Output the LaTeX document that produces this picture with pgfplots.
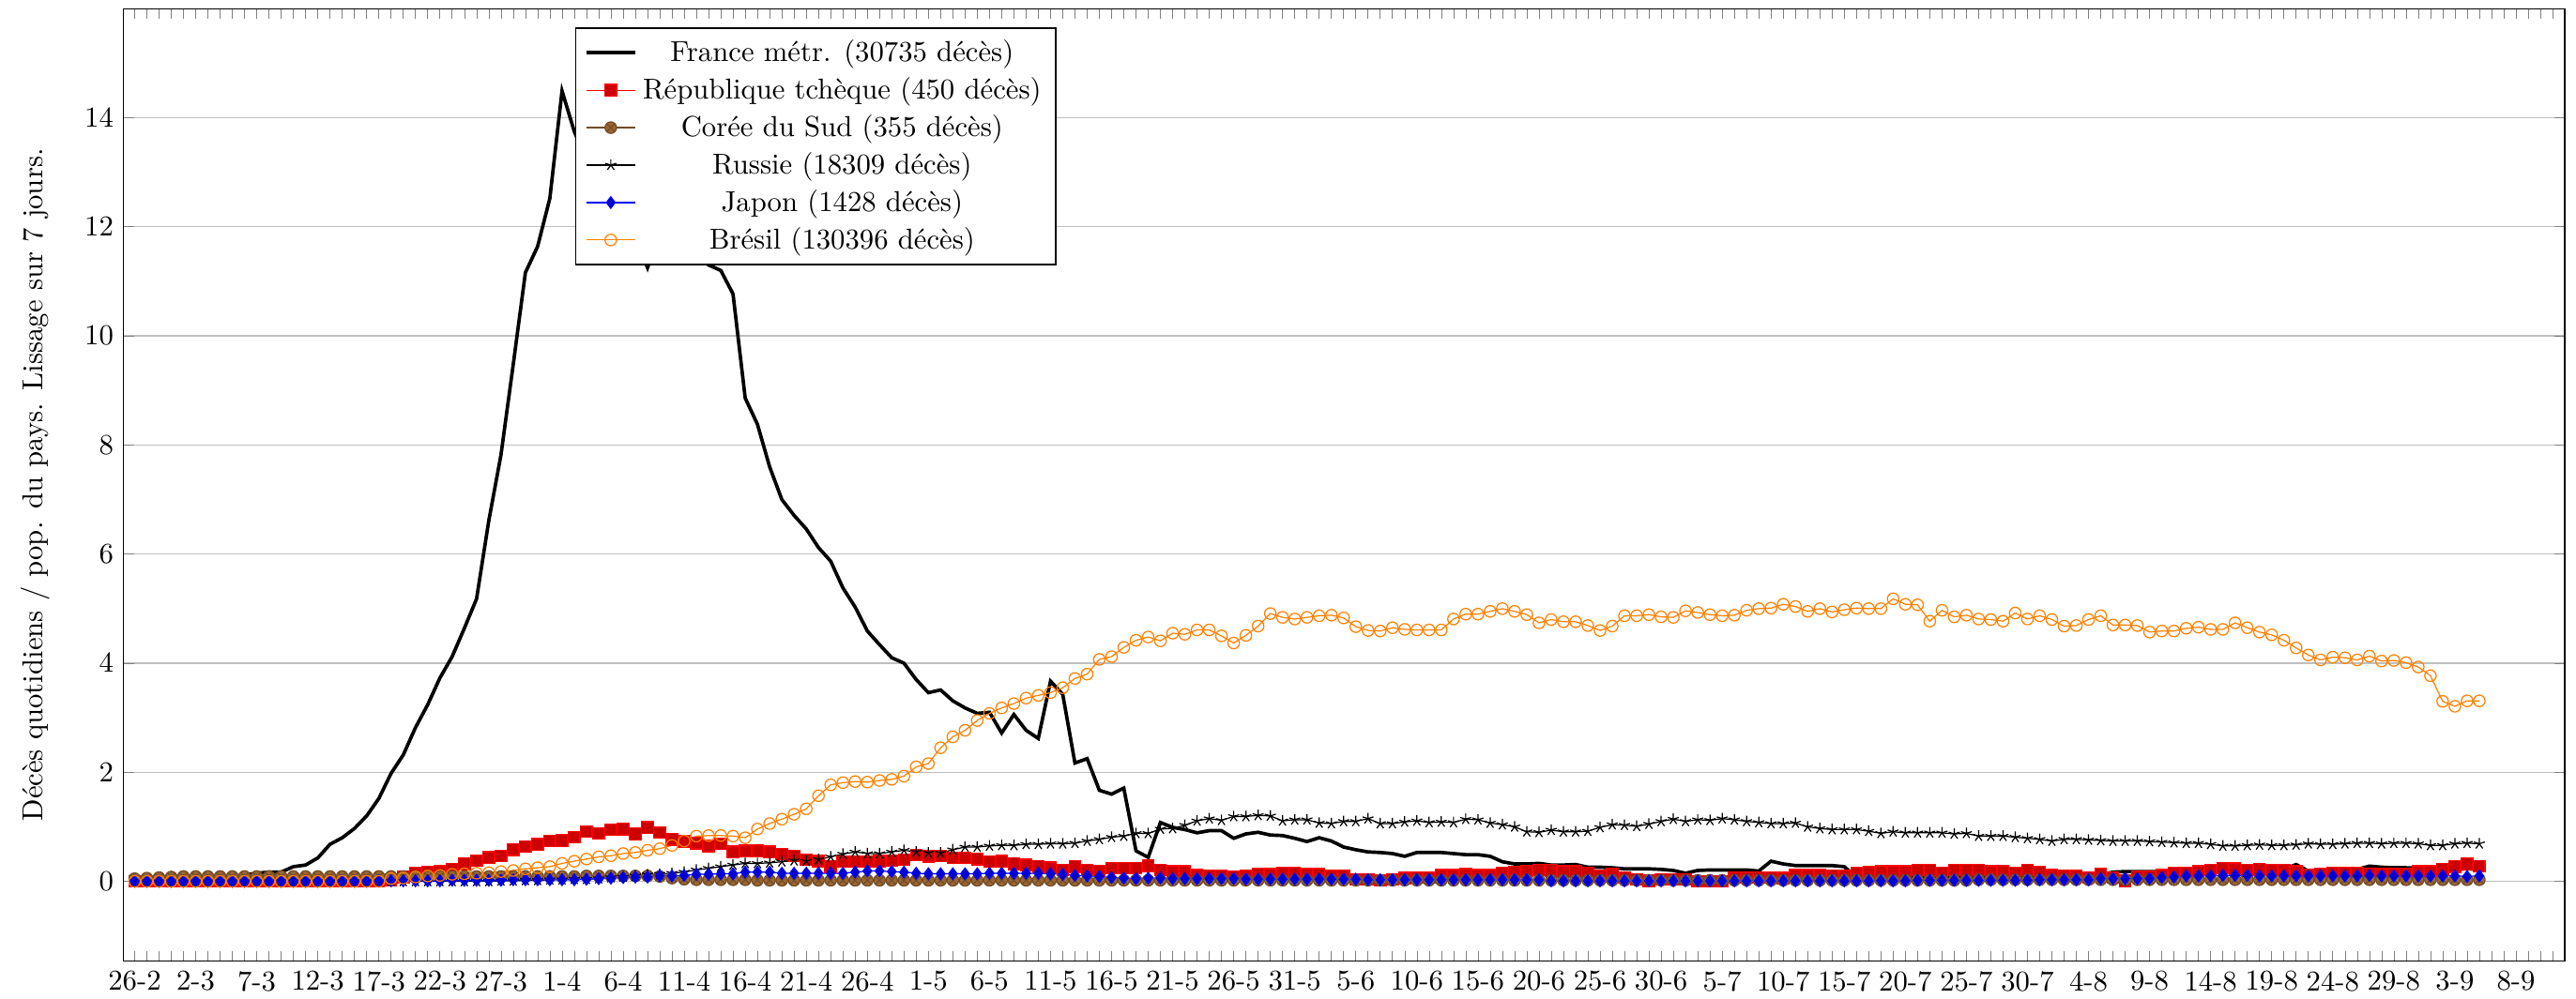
\documentclass[border=0pt]{standalone}
\usepackage{pgfplots}
\usepackage{pgfplotstable}
\pgfplotsset{compat=1.18}
\pgfplotstableread{
d fr cz kr ru jp br
0 0.01 0 0.05 0 0 0
1 0.01 0 0.06 0 0 0
2 0.02 0 0.07 0 0 0
3 0.02 0 0.08 0 0 0
4 0.03 0 0.09 0 0 0
5 0.03 0 0.09 0 0 0
6 0.04 0 0.09 0 0 0
7 0.06 0 0.09 0 0 0
8 0.09 0 0.09 0 0 0
9 0.12 0 0.09 0 0 0
10 0.15 0 0.09 0 0 0
11 0.17 0 0.09 0 0 0
12 0.17 0 0.09 0 0 0
13 0.27 0 0.09 0 0 0
14 0.30 0 0.09 0 0 0
15 0.43 0 0.09 0 0 0
16 0.68 0 0.09 0 0 0
17 0.80 0 0.09 0 0 0
18 0.97 0 0.09 0 0 0
19 1.20 0 0.09 0 0 0
20 1.52 0 0.09 0 0.01 0
21 1.98 0.03 0.09 0 0.01 0.05
22 2.32 0.08 0.09 0 0.01 0.06
23 2.82 0.15 0.09 0 0.01 0.08
24 3.24 0.17 0.09 0 0.01 0.10
25 3.73 0.18 0.09 0 0.01 0.11
26 4.12 0.22 0.09 0 0.02 0.13
27 4.64 0.32 0.09 0 0.02 0.14
28 5.18 0.38 0.09 0 0.02 0.15
29 6.61 0.44 0.09 0 0.02 0.16
30 7.82 0.47 0.09 0.01 0.02 0.18
31 9.47 0.58 0.09 0.01 0.03 0.20
32 11.16 0.64 0.09 0.02 0.03 0.23
33 11.64 0.68 0.09 0.02 0.03 0.25
34 12.52 0.74 0.09 0.03 0.03 0.27
35 14.49 0.75 0.09 0.03 0.03 0.33
36 13.75 0.81 0.09 0.04 0.03 0.37
37 13.2 0.91 0.10 0.04 0.04 0.41
38 12.8 0.88 0.10 0.05 0.05 0.45
39 12.5 0.95 0.10 0.07 0.06 0.47
40 12.2 0.96 0.10 0.08 0.07 0.51
41 11.8 0.87 0.10 0.10 0.08 0.53
42 11.25 0.99 0.10 0.12 0.08 0.57
43 11.9 0.90 0.09 0.13 0.10 0.60
44 12.1 0.77 0.06 0.15 0.10 0.66
45 11.9 0.73 0.04 0.17 0.11 0.74
46 11.5 0.70 0.03 0.21 0.13 0.83
47 11.3 0.65 0.03 0.24 0.13 0.84
48 11.2 0.69 0.03 0.27 0.14 0.84
49 10.77 0.54 0.03 0.30 0.14 0.83
50 8.86 0.56 0.03 0.33 0.17 0.80
51 8.38 0.56 0.02 0.33 0.17 0.96
52 7.60 0.54 0.02 0.34 0.17 1.06
53 7.00 0.50 0.02 0.36 0.15 1.14
54 6.71 0.47 0.02 0.38 0.15 1.23
55 6.46 0.40 0.02 0.37 0.15 1.33
56 6.12 0.37 0.02 0.40 0.15 1.57
57 5.87 0.27 0.02 0.45 0.15 1.77
58 5.38 0.36 0.02 0.50 0.15 1.81
59 5.03 0.36 0.02 0.54 0.17 1.83
60 4.59 0.36 0.02 0.51 0.19 1.82
61 4.34 0.37 0.02 0.51 0.19 1.85
62 4.10 0.38 0.02 0.54 0.18 1.87
63 4.00 0.40 0.02 0.57 0.17 1.93
64 3.70 0.48 0.02 0.54 0.15 2.10
65 3.46 0.46 0.02 0.52 0.14 2.16
66 3.51 0.47 0.02 0.52 0.14 2.45
67 3.31 0.43 0.02 0.58 0.14 2.65
68 3.18 0.43 0.02 0.63 0.14 2.77
69 3.08 0.41 0.02 0.63 0.14 2.95
70 3.10 0.36 0.02 0.65 0.15 3.08
71 2.72 0.37 0.02 0.66 0.15 3.18
72 3.06 0.32 0.02 0.66 0.15 3.26
73 2.77 0.30 0.02 0.68 0.15 3.36
74 2.62 0.27 0.02 0.68 0.15 3.41
75 3.67 0.25 0.02 0.69 0.14 3.46
76 3.43 0.21 0.02 0.69 0.13 3.55
77 2.17 0.27 0.02 0.70 0.11 3.72
78 2.25 0.21 0.02 0.74 0.10 3.80
79 1.67 0.19 0.02 0.77 0.09 4.07
80 1.60 0.24 0.02 0.81 0.07 4.12
81 1.71 0.24 0.02 0.83 0.06 4.29
82 0.56 0.24 0.02 0.88 0.05 4.42
83 0.44 0.29 0.02 0.88 0.06 4.48
84 1.08 0.21 0.02 0.96 0.06 4.41
85 0.99 0.18 0.02 0.97 0.05 4.55
86 0.95 0.18 0.02 1.03 0.05 4.53
87 0.89 0.11 0.02 1.11 0.05 4.61
88 0.93 0.10 0.02 1.15 0.05 4.61
89 0.93 0.10 0.02 1.12 0.05 4.50
90 0.79 0.09 0.02 1.19 0.05 4.37
91 0.87 0.10 0.02 1.19 0.04 4.51
92 0.90 0.14 0.02 1.21 0.04 4.68
93 0.85 0.13 0.02 1.20 0.04 4.91
94 0.84 0.15 0.02 1.11 0.04 4.84
95 0.79 0.15 0.02 1.13 0.04 4.81
96 0.73 0.13 0.02 1.13 0.04 4.84
97 0.80 0.13 0.02 1.07 0.04 4.87
98 0.74 0.10 0.02 1.06 0.04 4.88
99 0.63 0.10 0.02 1.10 0.04 4.83
100 0.58 0.04 0.02 1.10 0.04 4.67
101 0.54 0.04 0.02 1.15 0.03 4.60
102 0.53 0.02 0.02 1.06 0.03 4.59
103 0.51 0.04 0.02 1.06 0.03 4.65
104 0.46 0.06 0.02 1.09 0.03 4.62
105 0.53 0.07 0.02 1.11 0.03 4.61
106 0.53 0.07 0.02 1.08 0.03 4.61
107 0.53 0.11 0.02 1.09 0.03 4.61
108 0.51 0.11 0.02 1.08 0.03 4.81
109 0.49 0.13 0.02 1.14 0.03 4.90
110 0.49 0.11 0.02 1.13 0.03 4.90
111 0.46 0.11 0.02 1.07 0.03 4.95
112 0.36 0.15 0.02 1.04 0.03 5.00
113 0.32 0.17 0.02 1.00 0.03 4.95
114 0.32 0.19 0.02 0.91 0.03 4.89
115 0.33 0.21 0.02 0.90 0.03 4.74
116 0.30 0.20 0.02 0.94 0.01 4.80
117 0.30 0.18 0.02 0.91 0.01 4.76
118 0.31 0.18 0.02 0.91 0.01 4.76
119 0.26 0.15 0.02 0.92 0.01 4.69
120 0.26 0.10 0.02 0.99 0.01 4.60
121 0.25 0.13 0.02 1.04 0.01 4.68
122 0.23 0.07 0.02 1.03 0.01 4.87
123 0.23 0.04 0.02 1.01 0.01 4.87
124 0.23 0.01 0.02 1.05 0.01 4.89
125 0.22 0.04 0.02 1.10 0.01 4.85
126 0.20 0.04 0.02 1.14 0.01 4.84
127 0.15 0.04 0.02 1.10 0.01 4.96
128 0.20 0.00 0.02 1.13 0.01 4.93
129 0.21 0.00 0.02 1.12 0.01 4.89
130 0.21 0.00 0.02 1.15 0.01 4.87
131 0.21 0.07 0.02 1.13 0.01 4.88
132 0.21 0.07 0.02 1.10 0.01 4.97
133 0.19 0.07 0.02 1.08 0.01 5.00
134 0.37 0.07 0.02 1.06 0.01 5.01
135 0.32 0.06 0.02 1.06 0.01 5.08
136 0.29 0.11 0.02 1.07 0.01 5.04
137 0.29 0.11 0.02 1.00 0.01 4.95
138 0.29 0.11 0.02 0.97 0.01 5.00
139 0.29 0.10 0.02 0.95 0.01 4.94
140 0.27 0.10 0.02 0.95 0.01 4.98
141 0.07 0.15 0.02 0.95 0.01 5.01
142 0.07 0.17 0.02 0.92 0.01 5.00
143 0.08 0.18 0.02 0.88 0.01 5.00
144 0.08 0.18 0.02 0.91 0.01 5.18
145 0.08 0.18 0.02 0.89 0.01 5.08
146 0.08 0.21 0.02 0.89 0.02 5.07
147 0.09 0.20 0.02 0.89 0.02 4.77
148 0.09 0.15 0.02 0.89 0.02 4.97
149 0.09 0.21 0.02 0.87 0.02 4.85
150 0.09 0.20 0.02 0.88 0.02 4.88
151 0.09 0.21 0.03 0.83 0.02 4.81
152 0.10 0.18 0.03 0.83 0.02 4.80
153 0.10 0.18 0.03 0.83 0.02 4.77
154 0.10 0.15 0.03 0.81 0.02 4.92
155 0.10 0.21 0.03 0.79 0.02 4.81
156 0.10 0.17 0.03 0.77 0.03 4.87
157 0.10 0.11 0.03 0.74 0.03 4.80
158 0.10 0.10 0.03 0.77 0.03 4.68
159 0.10 0.10 0.03 0.77 0.03 4.69
160 0.10 0.07 0.03 0.76 0.03 4.80
161 0.12 0.14 0.03 0.75 0.05 4.87
162 0.17 0.07 0.03 0.74 0.05 4.70
163 0.18 0.01 0.03 0.74 0.05 4.70
164 0.18 0.09 0.03 0.74 0.05 4.69
165 0.18 0.09 0.03 0.73 0.05 4.57
166 0.18 0.11 0.03 0.72 0.07 4.59
167 0.19 0.15 0.03 0.71 0.08 4.59
168 0.22 0.15 0.03 0.70 0.10 4.64
169 0.21 0.18 0.03 0.70 0.10 4.66
170 0.20 0.21 0.03 0.68 0.10 4.62
171 0.20 0.24 0.03 0.65 0.11 4.62
172 0.20 0.23 0.03 0.65 0.11 4.74
173 0.20 0.20 0.03 0.66 0.11 4.65
174 0.21 0.22 0.03 0.67 0.10 4.57
175 0.21 0.21 0.03 0.66 0.10 4.52
176 0.22 0.20 0.03 0.66 0.10 4.42
177 0.31 0.18 0.03 0.67 0.10 4.28
178 0.19 0.11 0.03 0.69 0.10 4.15
179 0.20 0.14 0.03 0.68 0.10 4.06
180 0.20 0.15 0.03 0.68 0.10 4.11
181 0.21 0.15 0.03 0.69 0.10 4.10
182 0.22 0.15 0.03 0.70 0.10 4.06
183 0.28 0.14 0.03 0.70 0.11 4.13
184 0.26 0.13 0.03 0.69 0.10 4.04
185 0.25 0.13 0.03 0.70 0.10 4.05
186 0.25 0.14 0.03 0.70 0.10 4.01
187 0.24 0.18 0.03 0.69 0.10 3.93
188 0.22 0.18 0.03 0.66 0.10 3.77
189 0.21 0.22 0.03 0.66 0.10 3.30
190 0.22 0.27 0.03 0.69 0.10 3.21
191 0.23 0.32 0.03 0.70 0.09 3.31
192 0.22 0.28 0.03 0.69 0.10 3.31
}\data
\begin{document}
\begin{tikzpicture}
\begin{axis}[
  scale only axis,
  width=847pt, height=330.6pt,
  xmin=-0.9, xmax=199, ymin=-1.46, ymax=16,
  xtick={0,5,...,195},
  xticklabels={26-2,2-3,7-3,12-3,17-3,22-3,27-3,1-4,6-4,11-4,16-4,21-4,26-4,1-5,6-5,11-5,16-5,21-5,26-5,31-5,5-6,10-6,15-6,20-6,25-6,30-6,5-7,10-7,15-7,20-7,25-7,30-7,4-8,9-8,14-8,19-8,24-8,29-8,3-9,8-9},
  minor xtick={0,...,198},
  major tick length=3.5pt, minor tick length=3.5pt,
  ytick={0,2,...,14},
  ymajorgrids,
  ylabel={Décès quotidiens / pop. du pays. Lissage sur 7 jours.},
  ylabel style={yshift=5.3pt},
  legend cell align=center,
  legend style={at={(0.185,0.98)}, anchor=north west},
]
\addplot[black, very thick, no markers] table[x=d,y=fr]{\data};
\addlegendentry{France métr. (30735 décès)}
\addplot[red, mark=square*, mark options={fill=red!80!black}] table[x=d,y=cz]{\data};
\addlegendentry{République tchèque (450 décès)}
\addplot[brown!60!black, mark=otimes*, mark options={fill=brown!80!black}] table[x=d,y=kr]{\data};
\addlegendentry{Corée du Sud (355 décès)}
\addplot[black, mark=star] table[x=d,y=ru]{\data};
\addlegendentry{Russie (18309 décès)}
\addplot[blue, mark=diamond*, mark options={fill=blue!80!black}] table[x=d,y=jp]{\data};
\addlegendentry{Japon (1428 décès)}
\addplot[orange, mark=o] table[x=d,y=br]{\data};
\addlegendentry{Brésil (130396 décès)}
\end{axis}
\pgfresetboundingbox
\path[use as bounding box] ([shift={(-42.9pt,-13pt)}]current axis.south west) rectangle ([shift={(3.9pt,3pt)}]current axis.north east);
\end{tikzpicture}
\end{document}
